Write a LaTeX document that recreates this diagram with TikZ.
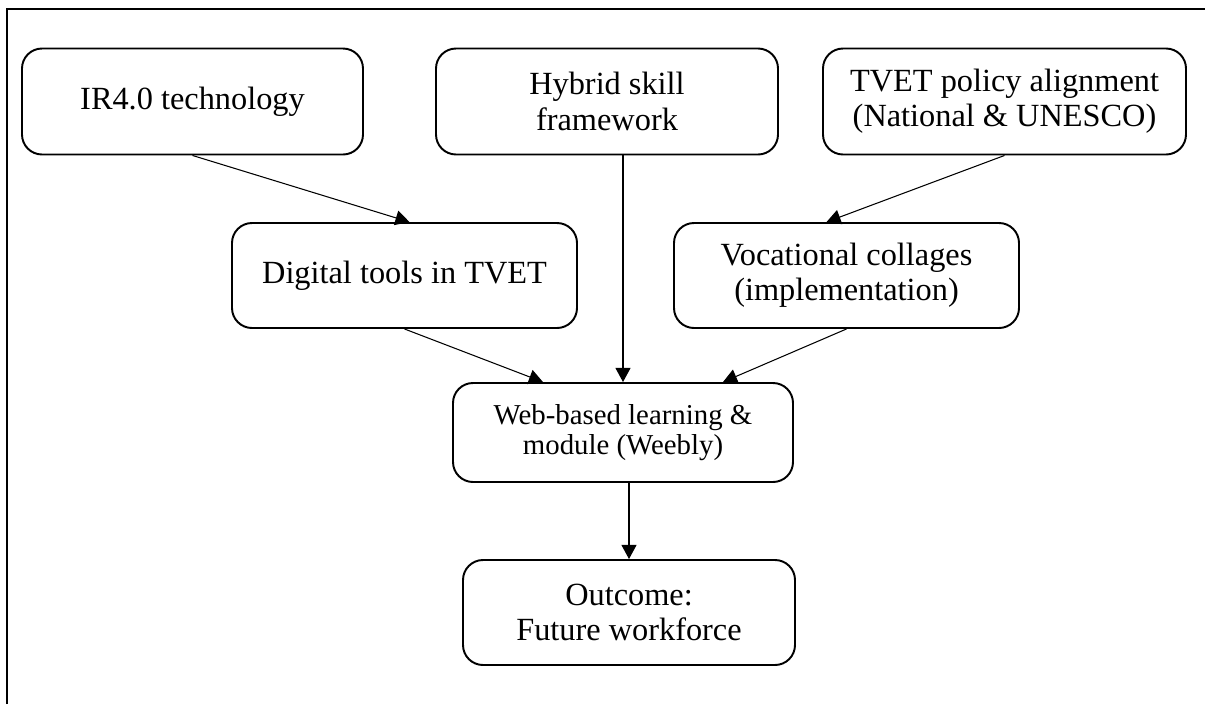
\documentclass[tikz,border=0pt]{standalone}
\usepackage{fontspec}
\setmainfont{Liberation Serif}
\usetikzlibrary{arrows.meta}
\begin{document}
\begin{tikzpicture}[
		box/.style={draw, rounded corners=0.4cm, line width=1.1pt, align=center, inner sep=2pt,
			minimum height=2.12cm, font=\fontsize{18.4}{20}\selectfont},
		seta/.style={-{Triangle[length=8pt,width=8.5pt]}, line width=0.6pt}
	]
		\useasboundingbox (0,0) rectangle (24.1,-14.08);					% Margens
		\draw[line width=1.1pt] (0.14,-14.08) -- (0.14,-0.18) -- (24.1,-0.18);	% Moldura
		
		% Caixas
		\node[box, minimum width=6.82cm] (ir)  at (3.85,-2.03)  {IR4.0 technology};
		\node[box, minimum width=6.84cm] (hyb) at (12.14,-2.03) {Hybrid skill\\framework};
		\node[box, minimum width=7.26cm] (pol) at (20.09,-2.03) {TVET policy alignment\\(National \& UNESCO)};
		
		\node[box, minimum width=6.9cm, minimum height=2.1cm] (dig) at (8.09,-5.51)  {Digital tools in TVET};
		\node[box, minimum width=6.9cm, minimum height=2.1cm] (voc) at (16.93,-5.51) {Vocational collages\\(implementation)};
		
		\node[box, minimum width=6.8cm, minimum height=1.98cm, font=\fontsize{16.4}{17}\selectfont] (web) at (12.46,-8.65) {Web-based learning \&\\module (Weebly)};
		\node[box, minimum width=6.64cm, minimum height=2.1cm] (out) at (12.58,-12.25) {Outcome:\\Future workforce};
		
		% Setas
		\draw[seta] (ir.south)  -- ([xshift=0.1cm]dig.north);
		\draw[seta] (pol.south) -- ([xshift=-0.4cm]voc.north);
		\draw[seta] (web.north |- hyb.south) -- (web.north);
		\draw[seta] (dig.south) -- ([xshift=-1.6cm]web.north);
		\draw[seta] (voc.south) -- ([xshift=2cm]web.north);
		\draw[seta] (out.north |- web.south) -- (out.north);
	\end{tikzpicture}
\end{document}
